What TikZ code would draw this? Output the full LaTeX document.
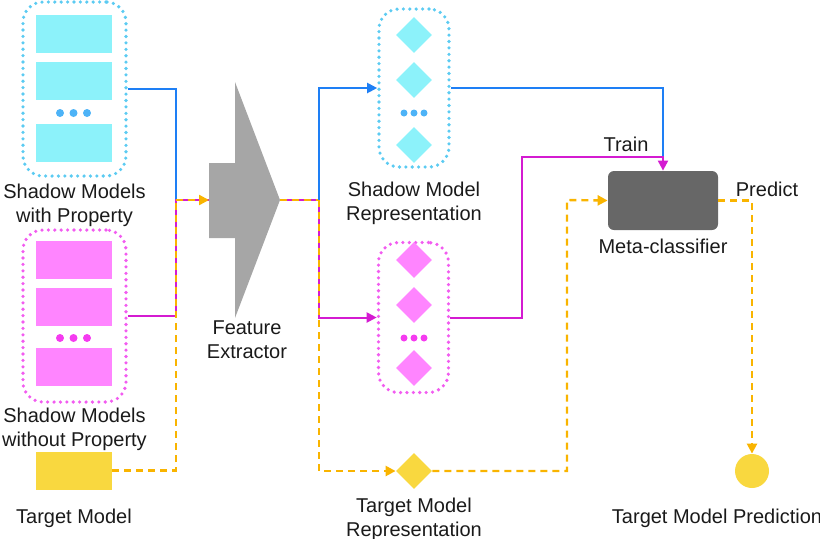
\documentclass[tikz,border=0pt]{standalone}
\usepackage{fontspec}
\setmainfont{Liberation Sans}
\usetikzlibrary{positioning,shapes.geometric,arrows.meta}

\definecolor{cyanfill}{HTML}{8CF2FA}
\definecolor{cyandot}{HTML}{5CCBF2}
\definecolor{bluedot}{HTML}{4DB3F7}
\definecolor{blueline}{HTML}{1E7FF5}
\definecolor{pinkfill}{HTML}{FF85FF}
\definecolor{pinkdot}{HTML}{F25CF0}
\definecolor{magdot}{HTML}{F53BF0}
\definecolor{magline}{HTML}{D41BD1}
\definecolor{orangeline}{HTML}{F9B400}
\definecolor{targetfill}{HTML}{F9D83F}
\definecolor{exgray}{HTML}{A6A6A6}
\definecolor{metagray}{HTML}{676767}
\definecolor{txt}{HTML}{1A1A1A}

\def\gap{3pt}

\begin{document}
\begin{tikzpicture}[x=0.5pt,y=-0.5pt]
  \tikzset{modelbox/.style={minimum width=38pt,minimum height=19pt,inner sep=0pt},
    group/.style={rounded corners=10pt,line width=1.8pt,dash pattern=on 0pt off 3.2pt,line cap=round,minimum width=51.5pt,inner sep=0pt},
    repgroup/.style={group,minimum width=35pt},
    rep/.style={diamond,inner sep=0pt,minimum size=18pt},
    ell/.style={circle,inner sep=0pt,minimum size=4pt},
    lbl/.style={align=center,inner sep=0pt,text=txt,font=\fontsize{10}{12}\selectfont},
    link/.style={line width=1pt},
    flow/.style={link,line width=1.2pt,orangeline,dash pattern=on 3.5pt off 2.5pt},
    tip/.style={-{Triangle[length=5pt,width=5pt]}}}

  \useasboundingbox (0,0) rectangle (820,538);

  % shadow models
  \node[group,draw=cyandot,minimum height=87pt] (smp) at (74.5,89) {};
  \node[group,draw=pinkdot,minimum height=86pt] (smn) at (74.5,316) {};
  \foreach \y [count=\i] in {34,80.5,143} {
    \node[modelbox,fill=cyanfill] (sp\i) at (74,\y) {};
  }
  \foreach \y [count=\i] in {260,307,367} {
    \node[modelbox,fill=pinkfill] (sn\i) at (74,\y) {};
  }
  \foreach \x in {60,73.5,87} {
    \node[ell,fill=bluedot] at (\x,113) {};
    \node[ell,fill=magdot] at (\x,338) {};
  }
  \node[modelbox,fill=targetfill] (tm) at (74,470.5) {};
  \node[lbl,below=\gap of smp] {Shadow Models\\with Property};
  \node[lbl,below=2pt of smn] {Shadow Models\\without Property};
  \node[lbl,below=9.5pt of tm] {Target Model};

  % feature extractor
  \fill[exgray] (235,82) -- (280,200) -- (235,318) -- (235,238) -- (209,238) -- (209,163) -- (235,163) -- cycle;
  \coordinate (fein) at (209,200);
  \coordinate (fe) at (280,200);
  \coordinate (febot) at (247,318);
  \node[lbl,below=1pt of febot] {Feature\\Extractor};

  % representations
  \node[repgroup,draw=cyandot,minimum height=79pt] (cr) at (414,88) {};
  \node[repgroup,draw=pinkdot,minimum height=75pt] (mr) at (413.5,317.5) {};
  \foreach \y in {35,80,145} {
    \node[rep,fill=cyanfill] at (414,\y) {};
  }
  \foreach \y in {260,305,368} {
    \node[rep,fill=pinkfill] at (414,\y) {};
  }
  \foreach \x in {404,414,424} {
    \node[ell,minimum size=3.5pt,fill=bluedot] at (\x,113) {};
    \node[ell,minimum size=3.5pt,fill=magdot] at (\x,338) {};
  }
  \node[rep,fill=targetfill] (trep) at (414,471) {};
  \node[lbl,below=6.5pt of cr] {Shadow Model\\Representation};
  \node[lbl,below=4pt of trep] {Target Model\\Representation};

  % meta-classifier
  \node[fill=metagray,rounded corners=3pt,minimum width=55pt,minimum height=29.5pt] (meta) at (663,200.5) {};
  \node[lbl,below=4pt of meta] {Meta-classifier};
  \node[circle,fill=targetfill,minimum size=17pt,inner sep=0pt] (pred) at (752,471) {};
  \node[lbl,below=10pt of pred,xshift=-17.5pt] {Target Model Prediction};

  \coordinate (jl) at (176,200);
  \coordinate (jr) at (319,200);
  \coordinate (jt) at (522,157);
  \coordinate (jm) at (663,157);
  \coordinate (jb) at (567,200);

  % left joins
  \draw[link,blueline] (smp.east) -| (jl);
  \draw[link,magline] (smn.east) -| (jl) -- (fein);
  \draw[flow] (tm.east) -| (jl);
  \draw[flow,tip] (jl) -- (fein);

  % right joins
  \draw[link,magline] (fe) -- (jr);
  \draw[flow] (fe) -- (jr);
  \draw[link,blueline,tip] (jr) |- (cr.west);
  \draw[link,magline,tip] (jr) |- (mr.west);
  \draw[flow,tip] (jr) |- (trep.west);

  % train / predict
  \draw[link,blueline] (cr.east) -| (jm);
  \draw[link,magline,tip] (mr.east) -| (jt) -| (meta.north);
  \node[lbl] at (626,144) {Train};
  \draw[flow,tip] (trep.east) -| (jb) -- (meta.west);
  \draw[flow,tip] (meta.east) -| (pred.north);
  \node[lbl] at (767,189) {Predict};
\end{tikzpicture}
\end{document}
